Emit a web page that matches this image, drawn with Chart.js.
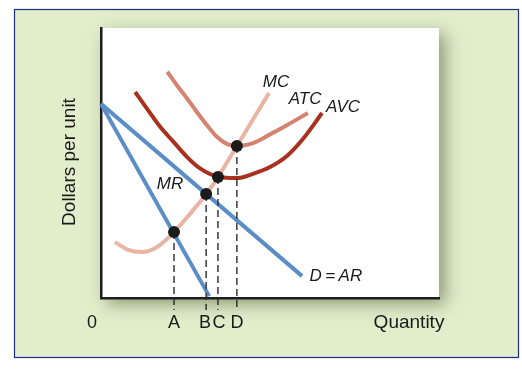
<!DOCTYPE html>
<html>
<head>
<meta charset="utf-8">
<script src="https://cdn.jsdelivr.net/npm/chart.js@4.4.1/dist/chart.umd.min.js"></script>
<style>
  html, body { margin: 0; padding: 0; background: #ffffff; }
  #wrap { width: 522px; height: 370px; }
</style>
</head>
<body>
<div id="wrap"><canvas id="c" width="522" height="370"></canvas></div>
<script>
// ---- Data (arbitrary economic units: quantity 0-100, dollars 0-100) ----
const mcX  = [4.1, 8.0, 12.1, 16.6, 21.6, 26.3, 31.1, 34.6, 40.2, 49.7];
const mcY  = [20.7, 17.8, 17.0, 18.9, 24.4, 31.1, 38.5, 44.8, 56.3, 75.9];
const atcX = [19.6, 22.4, 25.4, 28.3, 31.3, 34.2, 37.2, 40.4, 45.0, 50.0, 55.0, 61.2];
const atcY = [83.8, 78.9, 74.0, 69.0, 64.1, 59.8, 57.1, 56.3, 57.4, 60.6, 64.0, 68.5];
const avcX = [10.1, 13.8, 17.5, 21.4, 25.4, 29.3, 34.7, 40.1, 45.0, 50.0, 55.0, 59.8, 65.4];
const avcY = [76.3, 69.8, 63.4, 57.9, 52.3, 48.0, 44.9, 44.4, 46.0, 48.5, 52.6, 59.0, 68.5];
const demandX = [0, 59.5];
const demandY = [71.9, 8.1];
const mrX = [0, 32.0];
const mrY = [71.9, 0.7];
// intersection points A, B, C, D
const pointNames = ['A', 'B', 'C', 'D'];
const pointX = [21.6, 31.1, 34.6, 40.2];
const pointY = [24.4, 38.5, 44.8, 56.3];
const dashBottomY = -4.4;
// axis labels
const xTickLabels = ['0', 'A', 'B', 'C', 'D'];
const xTickValues = [0, 21.6, 31.1, 34.6, 40.2];
const xAxisTitle = 'Quantity';
const yAxisTitle = 'Dollars per unit';
// curve labels
const curveLabels = ['MC', 'ATC', 'AVC', 'MR', 'D\u2009=\u2009AR'];
const curveLabelX = [51.8, 60.4, 71.6, 20.4, 69.5];
const curveLabelY = [80.0, 73.7, 70.7, 42.2, 8.1];

const zip = (xs, ys) => xs.map((x, i) => ({ x: x, y: ys[i] }));

const datasets = [];
// dots
datasets.push({
  data: zip(pointX, pointY), showLine: false, pointRadius: 6, pointHoverRadius: 6,
  pointBackgroundColor: '#1b1b1b', pointBorderColor: '#1b1b1b', pointBorderWidth: 0, order: 0, clip: false
});
// dashed drop lines
pointX.forEach((x, i) => {
  datasets.push({
    data: [{ x: x, y: pointY[i] }, { x: x, y: dashBottomY }], showLine: true, pointRadius: 0,
    borderColor: '#2a2a2a', borderWidth: 1.4, borderDash: [7, 4], order: 1, clip: false
  });
});
// demand / MR
datasets.push({ data: zip(demandX, demandY), showLine: true, pointRadius: 0, borderColor: '#5b8dc6', borderWidth: 4, borderCapStyle: 'butt', order: 2 });
datasets.push({ data: zip(mrX, mrY), showLine: true, pointRadius: 0, borderColor: '#5b8dc6', borderWidth: 4, borderCapStyle: 'butt', order: 2, clip: false });
// cost curves
const curveStyle = { showLine: true, pointRadius: 0, borderWidth: 4, cubicInterpolationMode: 'monotone', borderCapStyle: 'butt', order: 3 };
datasets.push(Object.assign({ data: zip(mcX, mcY), borderColor: '#e8b4a4' }, curveStyle));
datasets.push(Object.assign({ data: zip(atcX, atcY), borderColor: '#d3836f' }, curveStyle));
datasets.push(Object.assign({ data: zip(avcX, avcY), borderColor: '#a8321f' }, curveStyle));

const bgPlugin = {
  id: 'bg',
  beforeDraw(chart) {
    const ctx = chart.ctx, a = chart.chartArea;
    ctx.save();
    ctx.fillStyle = '#ffffff';
    ctx.fillRect(0, 0, chart.width, chart.height);
    ctx.fillStyle = '#e2edcc';
    ctx.fillRect(14, 9, 504, 348);
    ctx.strokeStyle = '#1d2f86';
    ctx.lineWidth = 1.2;
    ctx.strokeRect(14.5, 9.5, 504, 348);
    ctx.shadowColor = 'rgba(70, 85, 50, 0.55)';
    ctx.shadowBlur = 16;
    ctx.shadowOffsetX = 6;
    ctx.shadowOffsetY = 6;
    ctx.fillStyle = '#ffffff';
    ctx.fillRect(a.left, a.top, a.right - a.left, a.bottom - a.top);
    ctx.restore();
  }
};

const textPlugin = {
  id: 'texts',
  afterDraw(chart) {
    const ctx = chart.ctx, a = chart.chartArea;
    const xs = chart.scales.x, ys = chart.scales.y;
    ctx.save();
    ctx.fillStyle = '#1a1a1a';
    ctx.textBaseline = 'middle';
    ctx.textAlign = 'center';
    ctx.font = '18px "Liberation Sans", Arial, sans-serif';
    xTickLabels.forEach((t, i) => {
      let px = xs.getPixelForValue(xTickValues[i]);
      if (t === '0') px -= 9;
      if (t === 'B') px -= 1;
      if (t === 'C') px += 1;
      ctx.fillText(t, px, a.bottom + 25);
    });
    ctx.font = '19px "Liberation Sans", Arial, sans-serif';
    ctx.fillText(xAxisTitle, 409, a.bottom + 25);
    ctx.save();
    ctx.translate(70, 162);
    ctx.rotate(-Math.PI / 2);
    ctx.fillText(yAxisTitle, 0, 0);
    ctx.restore();
    ctx.font = 'italic 17px "Liberation Sans", Arial, sans-serif';
    curveLabels.forEach((t, i) => {
      ctx.fillText(t, xs.getPixelForValue(curveLabelX[i]), ys.getPixelForValue(curveLabelY[i]));
    });
    ctx.restore();
  }
};

new Chart(document.getElementById('c'), {
  type: 'scatter',
  data: { datasets: datasets },
  options: {
    responsive: false,
    animation: false,
    events: [],
    layout: { padding: { left: 101, top: 28, right: 83, bottom: 72 } },
    plugins: { legend: { display: false }, tooltip: { enabled: false } },
    scales: {
      x: {
        type: 'linear', min: 0, max: 100,
        grid: { display: false, drawTicks: false },
        ticks: { display: false },
        border: { display: true, color: '#1e1e1e', width: 2.5 }
      },
      y: {
        type: 'linear', min: 0, max: 100,
        grid: { display: false, drawTicks: false },
        ticks: { display: false },
        border: { display: true, color: '#1e1e1e', width: 2.5 }
      }
    }
  },
  plugins: [bgPlugin, textPlugin]
});
</script>
</body>
</html>
